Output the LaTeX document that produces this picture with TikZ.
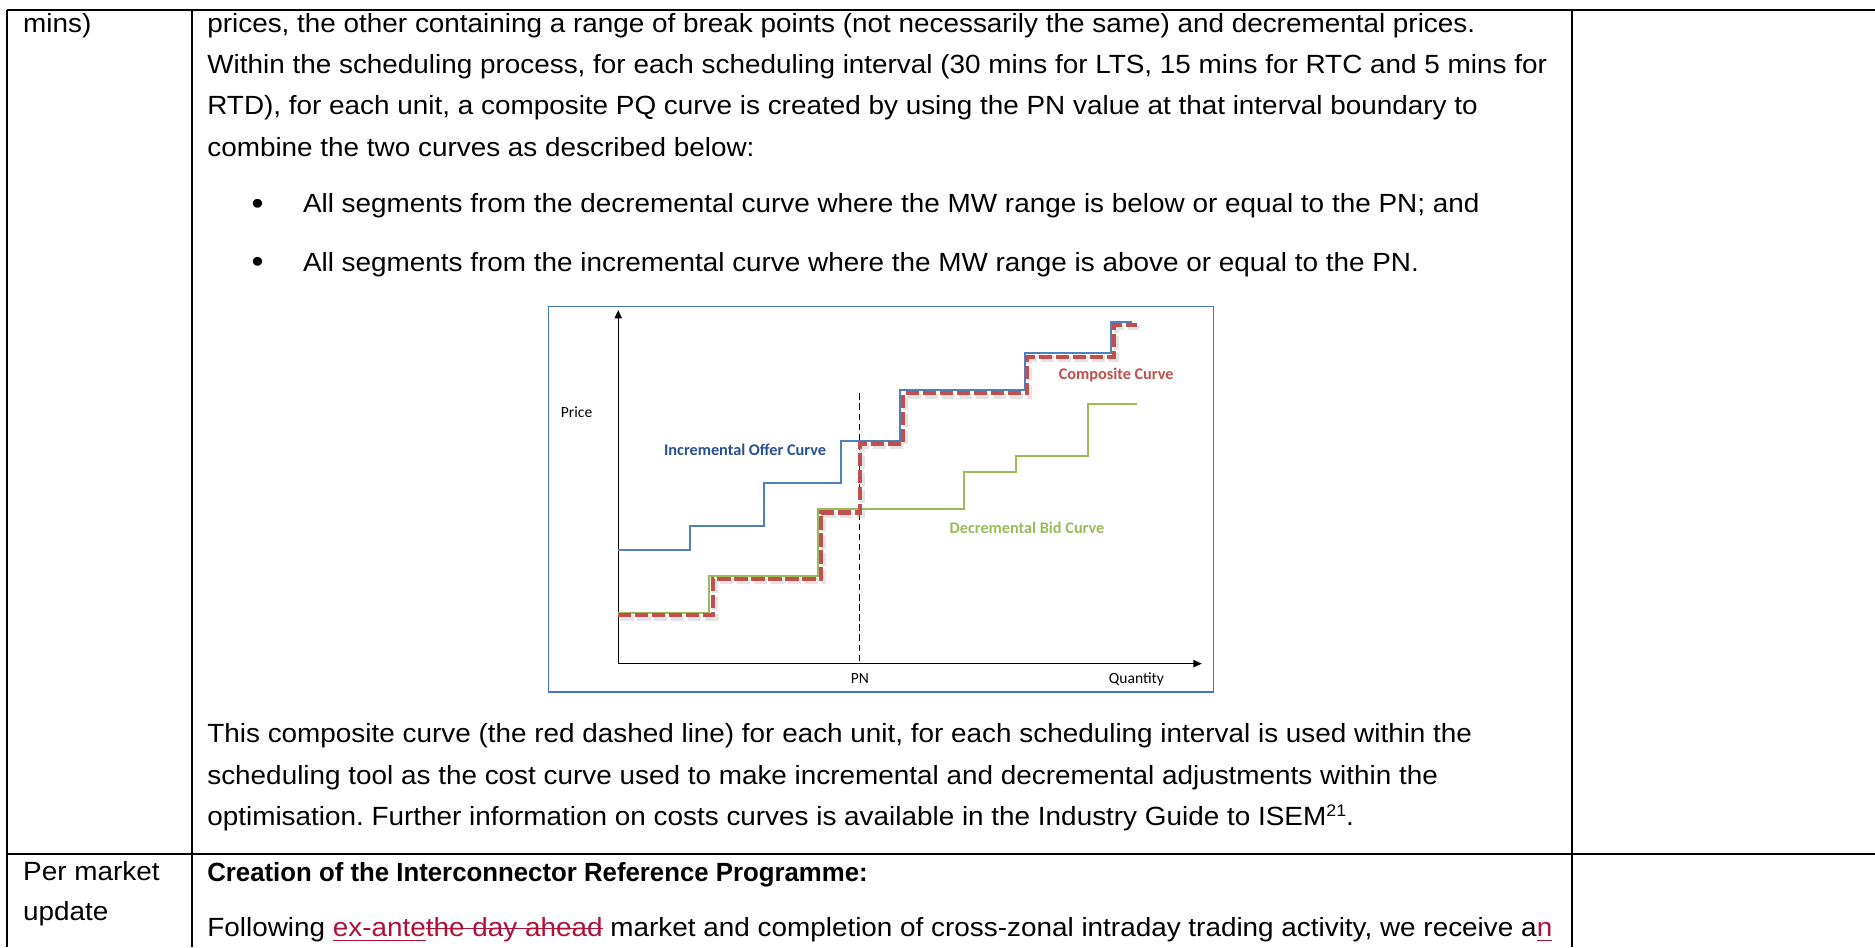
\documentclass[tikz,border=0pt]{standalone}
\usepackage{fontspec}
\usetikzlibrary{arrows.meta}
\setmainfont{Liberation Sans}[FakeStretch=1.06]
\newfontfamily\hdfont{Liberation Sans}[FakeStretch=0.98]
\newfontfamily\chartfont{Carlito}
\definecolor{trk}{RGB}{176,16,56}
\definecolor{framebl}{RGB}{68,114,196}
\definecolor{incbl}{RGB}{79,129,189}
\definecolor{inclab}{RGB}{40,80,145}
\definecolor{decgr}{RGB}{155,187,89}
\definecolor{compred}{RGB}{192,80,77}
\newsavebox\trkbox
\newcommand\trkul[1]{\sbox\trkbox{#1}\rlap{\rule[-2.0pt]{\wd\trkbox}{0.55pt}}\usebox\trkbox}
\newcommand\trkso[1]{\sbox\trkbox{#1}\rlap{\rule[2.9pt]{\wd\trkbox}{0.55pt}}\usebox\trkbox}
\newcommand\supnum[1]{\raisebox{3.6pt}{\fontsize{7}{7}\selectfont #1}}
\frenchspacing
\tikzset{
  tline/.style={line width=0.85pt, black},
  body/.style={anchor=base west, inner sep=0pt, font=\fontsize{11}{13}\selectfont},
  clab/.style={anchor=base west, inner sep=0pt, font=\chartfont\bfseries\fontsize{6.8}{8}\selectfont},
  cax/.style={inner sep=0pt, font=\chartfont\fontsize{6.5}{8}\selectfont},
  axis/.style={line width=0.6pt, black, -{Triangle[length=3.5pt,width=3pt]}},
  inc/.style={line width=0.85pt, incbl},
  dec/.style={line width=0.85pt, decgr},
  comp/.style={line width=1.7pt, compred, dash pattern=on 5.5pt off 1.6pt},
  compsh/.style={line width=2.4pt, black!30, opacity=0.35, dash pattern=on 5.5pt off 1.6pt},
}
\begin{document}
\begin{tikzpicture}[x=0.5pt,y=-0.5pt]
\useasboundingbox (0,0) rectangle (1568,792);
\fill[white] (0,0) rectangle (1568,792);
% table grid
\coordinate (tl) at (6,8.4);
\coordinate (tr) at (1568,8.4);
\coordinate (bl) at (6,792);
\coordinate (c1t) at (160.8,8.4);
\coordinate (c1b) at (160.8,792);
\coordinate (c2t) at (1314.5,8.4);
\coordinate (c2b) at (1314.5,792);
\coordinate (rl) at (6,714);
\coordinate (rr) at (1568,714);
\draw[tline] (tl) -- (tr);
\draw[tline] (tl) -- (bl);
\draw[tline] (c1t) -- (c1b);
\draw[tline] (c2t) -- (c2b);
\draw[tline] (rl) -- (rr);
% column 1
\node[body] (m1) at (19,27) {mins)};
\node[body] (pm) at (19,736) {Per market};
\node[body] (up) at (19,770) {update};
% column 2 text
\node[body] (l1) at (173,27) {prices, the other containing a range of break points (not necessarily the same) and decremental prices.};
\node[body] (l2) at (173,61.5) {Within the scheduling process, for each scheduling interval (30 mins for LTS, 15 mins for RTC and 5 mins for};
\node[body] (l3) at (173,96) {RTD), for each unit, a composite PQ curve is created by using the PN value at that interval boundary to};
\node[body] (l4) at (173,130.5) {combine the two curves as described below:};
\node[body, font=\fontsize{13.5}{13}\selectfont] (b1) at (210,179) {\textbullet};
\node[body] (b1t) at (253,178) {All segments from the decremental curve where the MW range is below or equal to the PN; and};
\node[body, font=\fontsize{13.5}{13}\selectfont] (b2) at (210,228) {\textbullet};
\node[body] (b2t) at (253,227) {All segments from the incremental curve where the MW range is above or equal to the PN.};
\node[body] (p1) at (173,621) {This composite curve (the red dashed line) for each unit, for each scheduling interval is used within the};
\node[body] (p2) at (173,656) {scheduling tool as the cost curve used to make incremental and decremental adjustments within the};
\node[body] (p3) at (173,690) {optimisation. Further information on costs curves is available in the Industry Guide to ISEM\supnum{21}.};
\node[body, font=\hdfont\bfseries\fontsize{11}{13}\selectfont] (h2) at (173,737) {Creation of the Interconnector Reference Programme:};
\node[body] (f1) at (173,783) {Following \textcolor{trk}{\trkul{ex-ante}\trkso{the day ahead}} market and completion of cross-zonal intraday trading activity, we receive a\textcolor{trk}{\trkul{n}}};
% chart frame
\node[draw=framebl, line width=0.6pt, minimum width=555.8*0.5pt, minimum height=322.1*0.5pt, inner sep=0pt, anchor=north west] (frame) at (458.2,255.9) {};
% axes
\coordinate (org) at (517,555);
\coordinate (ytop) at (517,259.3);
\coordinate (xend) at (1005,555);
\draw[axis] (org) -- (ytop);
\draw[axis] (org) -- (xend);
% PN line
\coordinate (pnt) at (719.1,329);
\coordinate (pnb) at (719.1,555);
\draw[black, line width=0.45pt, dash pattern=on 2.6pt off 1.6pt] (pnt) -- (pnb);
% incremental offer curve
\draw[inc] (517,459.6) -- (576.8,459.6) -- (576.8,440) -- (638.5,440) -- (638.5,404.3) -- (703.1,404.3) -- (703.1,368.6) -- (752.8,368.6) -- (752.8,326.3) -- (857,326.3) -- (857,295.6) -- (928.9,295.6) -- (928.9,269) -- (947,269);
% decremental bid curve
\draw[dec] (517,512.3) -- (593.2,512.3) -- (593.2,481.4) -- (683.9,481.4) -- (683.9,425.8) -- (806.2,425.8) -- (806.2,394.9) -- (849.8,394.9) -- (849.8,381.4) -- (909.6,381.4) -- (909.6,337.6) -- (950.7,337.6);
% composite curve shadow and curve
\draw[compsh, shift={(1.8,2.0)}] (517,514.5) -- (596.1,514.5) -- (596.1,483.9) -- (686.8,483.9) -- (686.8,428.6) -- (719.1,428.6) -- (719.1,370.9) -- (755.4,370.9) -- (755.4,329) -- (858.8,329) -- (858.8,298.3) -- (931.8,298.3) -- (931.8,271.8) -- (950.7,271.8);
\draw[comp] (517,514.5) -- (596.1,514.5) -- (596.1,483.9) -- (686.8,483.9) -- (686.8,428.6) -- (719.1,428.6) -- (719.1,370.9) -- (755.4,370.9) -- (755.4,329) -- (858.8,329) -- (858.8,298.3) -- (931.8,298.3) -- (931.8,271.8) -- (950.7,271.8);
% chart labels
\node[clab, text=inclab] (linc) at (555,381) {Incremental Offer Curve};
\node[clab, text=compred] (lcomp) at (885,317.5) {Composite Curve};
\node[clab, text=decgr] (ldec) at (793.8,446) {Decremental Bid Curve};
\node[cax, anchor=base west] (lprice) at (468.7,349) {Price};
\node[cax, anchor=base] (lpn) at (719.1,572) {PN};
\node[cax, anchor=base west] (lq) at (927,571.5) {Quantity};
\end{tikzpicture}
\end{document}
